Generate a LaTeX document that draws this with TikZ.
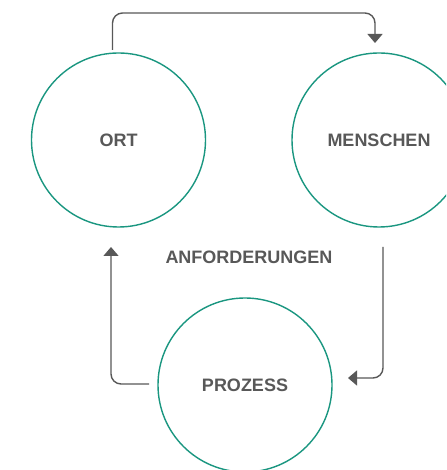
\documentclass[tikz,border=0pt]{standalone}
\usepackage{fontspec}
\setmainfont{Liberation Sans}
\usetikzlibrary{arrows.meta}
\definecolor{teal}{RGB}{26,150,128}
\definecolor{ink}{RGB}{88,88,88}
\begin{document}
\begin{tikzpicture}[x=1pt,y=1pt,
    stage/.style={circle,draw=teal,line width=1.4pt,minimum size=174pt,inner sep=0pt,outer sep=0pt,text=ink,font=\fontsize{18}{20}\selectfont\bfseries},
    flow/.style={draw=ink,line width=1.4pt,rounded corners=10pt,-{Triangle[width=15pt,length=9pt]}}]
    \useasboundingbox (0,0) rectangle (446,470);
    \clip (0,0) rectangle (446,470);
    \node[stage] (ort) at (118.5,330) {ORT};
    \node[stage] (menschen) at (379,330) {MENSCHEN};
    \node[stage] (prozess) at (245,85) {PROZESS};
    \node[text=ink,font=\fontsize{18}{20}\selectfont\bfseries] (anf) at (249,213) {ANFORDERUNGEN};
    \coordinate (top) at (0,457);
    \draw[flow] ([xshift=-6pt,yshift=3pt]ort.north) |- ([xshift=-4pt]menschen.north |- top) -- ([xshift=-4pt,yshift=10pt]menschen.north);
    \draw[flow] ([xshift=4pt,yshift=-20pt]menschen.south) |- ([xshift=16pt,yshift=7pt]prozess.east);
    \draw[flow] ([xshift=-9pt,yshift=1pt]prozess.west) -| ([xshift=-7.5pt,yshift=-20pt]ort.south);
\end{tikzpicture}
\end{document}
